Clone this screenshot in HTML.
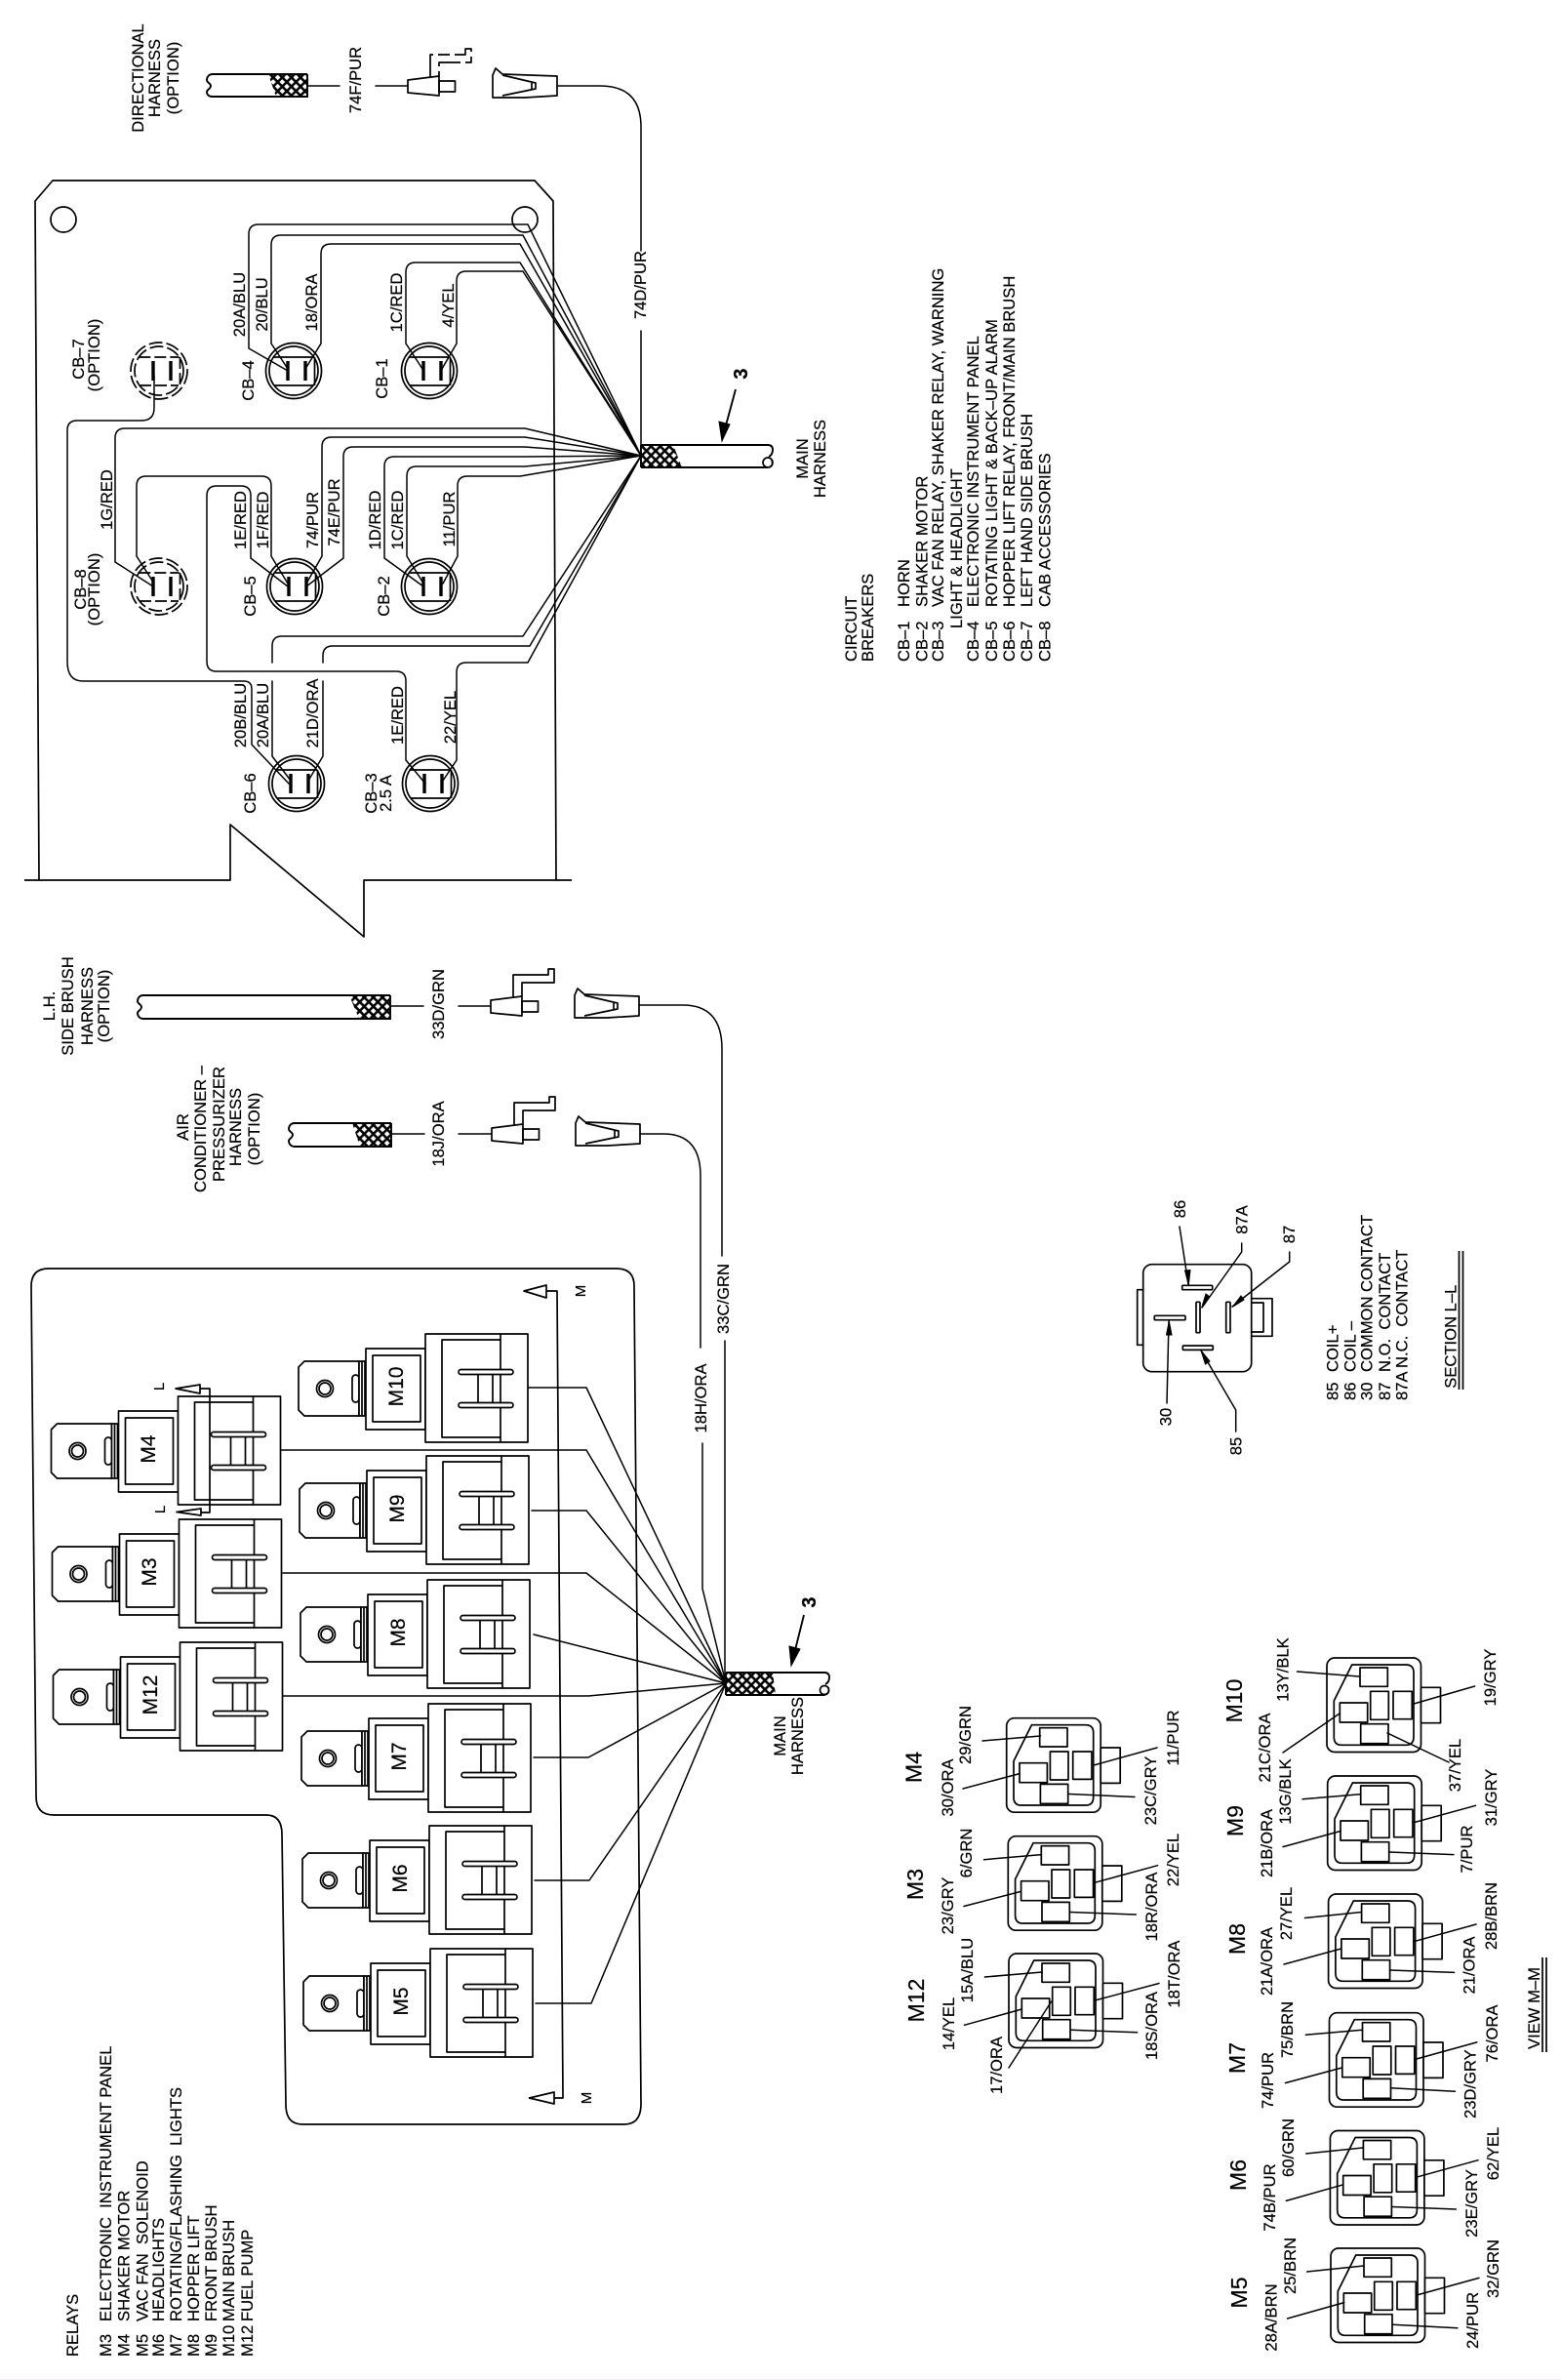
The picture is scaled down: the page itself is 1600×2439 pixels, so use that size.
<!DOCTYPE html>
<html><head><meta charset="utf-8"><title>Wiring diagram</title>
<style>
html,body{margin:0;padding:0;background:#fff}
svg{display:block}
text{font-family:"Liberation Sans",sans-serif;font-size:16.6px;fill:#000;stroke:#000;stroke-width:.2;text-anchor:middle;white-space:pre}
text.s{text-anchor:start}
text.big{font-size:23px}
text.rl{font-size:21px}
text.n{font-size:20px;font-weight:bold}
text.t{font-size:15px}
.w{fill:none;stroke:#000;stroke-width:1.5;stroke-linejoin:round;stroke-linecap:round}
.o{fill:none;stroke:#000;stroke-width:1.7;stroke-linejoin:round}
.f{fill:#fff;stroke:#000;stroke-width:1.7;stroke-linejoin:round}
.l{fill:none;stroke:#000;stroke-width:1.9}
</style></head><body>
<svg xmlns="http://www.w3.org/2000/svg" width="1600" height="2439" viewBox="0 0 1600 2439">
<defs>
<pattern id="h" width="6.6" height="6.6" patternUnits="userSpaceOnUse" patternTransform="rotate(45)">
<rect width="6.6" height="6.6" fill="#fff"/><path d="M3.3 0V6.6M0 3.3H6.6" stroke="#000" stroke-width="2.5"/>
</pattern>
<g id="cb"><circle r="28.5" class="o"/><circle r="25" class="o"/>
<path d="M-20.7-14H20.7M-20 15H20M21.5-14V15" class="o"/>
<path d="M-6-10V10M12-10V10" stroke="#000" stroke-width="3.4" fill="none"/></g>
<g id="cbd"><circle r="29" class="o" stroke-dasharray="14 4"/><circle r="25" class="o" stroke-dasharray="14 4"/>
<path d="M-20.7-14H20.7M-20 15H20M21.5-14V15" class="o" stroke-dasharray="12 4"/>
<path d="M-6-10V10M12-10V10" stroke="#000" stroke-width="3.4" fill="none"/></g>
<g id="r">
<path d="M0-22L6-28H62V28H6L0 22Z" class="f"/>
<circle cx="27" cy="0" r="8.5" class="f"/><circle cx="27" cy="0" r="6" class="f"/>
<rect x="55" y="-14" width="7" height="28" rx="3.5" class="f"/>
<rect x="62" y="-28" width="6" height="56" class="f"/><path d="M65-28V28" class="o"/>
<rect x="69" y="-41" width="61" height="83" class="f"/>
<rect x="76" y="-34" width="49" height="68" class="f"/>
<rect x="130" y="-56" width="105" height="111" class="f"/>
<path d="M207-56V55M207-50H147V50H207" class="o"/>
<path d="M184-17V17M199-17V17" class="o"/>
<rect x="164" y="-19.5" width="56" height="5" rx="2.5" class="f"/>
<rect x="164" y="14.5" width="56" height="5" rx="2.5" class="f"/>
</g>
<g id="c">
<rect x="0" y="0" width="96.5" height="96.5" rx="8" class="f"/>
<rect x="96.5" y="30.3" width="20" height="36.4" class="f"/>
<path d="M25.7 7H81Q89 7 89 15V81Q89 89.3 81 89.3H15Q7.3 89.3 7.3 81V44Z" class="o"/>
<rect x="34" y="10" width="28.3" height="19.3" class="o"/>
<rect x="44.7" y="34.3" width="18.6" height="29" class="o"/>
<rect x="68" y="34.3" width="19.3" height="28.4" class="o"/>
<rect x="13.3" y="46" width="28.4" height="20" class="o"/>
<rect x="34.7" y="67.7" width="28.3" height="20" class="o"/>
</g>
<g id="male"><path d="M0-6L32-10V10L0 7Z" class="o"/><rect x="32" y="-5" width="16.5" height="11" class="o"/></g>
<path id="hook" d="M23-9V-32H59V-38H65V-24H32V-10" class="o"/>
<g id="fem"><path d="M0-11L3-18L10-12L66-10V10L33 12L0 12Z" class="o"/><path d="M10-11L44-3V3L10 10M40-3V3" class="o"/></g>
</defs>
<rect width="1600" height="2439" fill="#fff"/>
<rect y="2438" width="1600" height="1" fill="#f6eef6"/>

<!-- Directional harness -->
<text transform="translate(147,80) rotate(-90)">DIRECTIONAL</text>
<text transform="translate(164,80) rotate(-90)">HARNESS</text>
<text transform="translate(183,80) rotate(-90)">(OPTION)</text>
<polygon points="275,76 315,76 315,99 283,99" fill="url(#h)"/>
<path d="M315 76H218C214 76 212 79 212 82C212 85 216 85 216 88C216 91 212 92 212 94C212 97 214 99 218 99H315V76" class="l"/>
<path d="M315 88H348M385 88H418" class="w"/>
<text transform="translate(370,82) rotate(-90)">74F/PUR</text>
<use href="#male" x="418" y="88"/>
<use href="#hook" x="418" y="88" stroke-dasharray="26 5 12 5"/>
<use href="#fem" x="505" y="88"/>
<path d="M571 88H615Q657 88 657 130V257M657 339V467" class="w"/>
<text transform="translate(662,292) rotate(-90)">74D/PUR</text>

<!-- CB panel -->
<path d="M25 902H236V845L373 960V902H586M40 902L36 206L54 185H548L567 206L570 902" class="o"/>
<circle cx="65" cy="225" r="13" class="o"/><circle cx="538" cy="225" r="13" class="o"/>

<path class="w" d="M295 380L255 357V240Q255 230 265 230H541L657 467"/>
<path class="w" d="M295 378L278 352V251Q278 241 288 241H536L657 467"/>
<path class="w" d="M313 378L329 352V260Q329 250 339 250H533L657 467"/>
<path class="w" d="M433 378L416 352V279Q416 269 426 269H533L657 467"/>
<path class="w" d="M453 378L468 352V288Q468 278 478 278H536L657 467"/>
<path class="w" d="M157 601L118 576V449Q118 439 128 439H538L657 467"/>
<path class="w" d="M295 598L278 570V498Q278 488 268 488H150Q140 488 140 498V570L158 598"/>
<path class="w" d="M295 601L257 572V508Q257 498 247 498H222Q212 498 212 508V678Q212 688 222 688H406Q416 688 416 698V779L436 803"/>
<path class="w" d="M314 598L330 570V458Q330 448 340 448H538L657 467"/>
<path class="w" d="M314 601L352 572V468Q352 458 362 458H538L657 467"/>
<path class="w" d="M434 601L394 572V478Q394 468 404 468H538L657 467"/>
<path class="w" d="M434 598L417 570V488Q417 478 427 478H538L657 467"/>
<path class="w" d="M454 598L469 570V498Q469 488 479 488H533L657 467"/>
<path class="w" d="M158 385V418Q158 431 145 431H79Q69 431 69 441V678Q69 698 85 698H250Q258 698 258 706V763L296 803"/>
<path class="w" d="M298 800L279 775V698M279 679V662Q279 652 289 652H536L657 467"/>
<path class="w" d="M316 800L331 775V698M331 679V672Q331 662 341 662H543L657 467"/>
<path class="w" d="M454 800L468 779V689Q468 679 478 679H541L657 467"/>

<use href="#cb" x="301" y="380"/><use href="#cb" x="440" y="380"/>
<use href="#cbd" x="163" y="380"/><use href="#cbd" x="163" y="601"/>
<use href="#cb" x="302" y="601"/><use href="#cb" x="440" y="601"/>
<use href="#cb" x="304" y="803"/><use href="#cb" x="441" y="803"/>

<text transform="translate(251,312) rotate(-90)">20A/BLU</text>
<text transform="translate(274,312) rotate(-90)">20/BLU</text>
<text transform="translate(325,310) rotate(-90)">18/ORA</text>
<text transform="translate(412,310) rotate(-90)">1C/RED</text>
<text transform="translate(465,313) rotate(-90)">4/YEL</text>
<text transform="translate(260,390) rotate(-90)">CB–4</text>
<text transform="translate(397,388) rotate(-90)">CB–1</text>
<text transform="translate(86,368) rotate(-90)">CB–7</text>
<text transform="translate(102,364) rotate(-90)">(OPTION)</text>
<text transform="translate(88,604) rotate(-90)">CB–8</text>
<text transform="translate(102,604) rotate(-90)">(OPTION)</text>
<text transform="translate(115,512) rotate(-90)">1G/RED</text>
<text transform="translate(252,533) rotate(-90)">1E/RED</text>
<text transform="translate(275,533) rotate(-90)">1F/RED</text>
<text transform="translate(326,533) rotate(-90)">74/PUR</text>
<text transform="translate(348,525) rotate(-90)">74E/PUR</text>
<text transform="translate(390,533) rotate(-90)">1D/RED</text>
<text transform="translate(413,533) rotate(-90)">1C/RED</text>
<text transform="translate(466,532) rotate(-90)">11/PUR</text>
<text transform="translate(262,611) rotate(-90)">CB–5</text>
<text transform="translate(399,611) rotate(-90)">CB–2</text>
<text transform="translate(252,733) rotate(-90)">20B/BLU</text>
<text transform="translate(275,733) rotate(-90)">20A/BLU</text>
<text transform="translate(326,731) rotate(-90)">21D/ORA</text>
<text transform="translate(413,733) rotate(-90)">1E/RED</text>
<text transform="translate(467,735) rotate(-90)">22/YEL</text>
<text transform="translate(262,813) rotate(-90)">CB–6</text>
<text transform="translate(386,813) rotate(-90)">CB–3</text>
<text transform="translate(401,813) rotate(-90)">2.5 A</text>

<!-- Main harness 1 -->
<polygon points="657,456 690,456 699,479 657,479" fill="url(#h)"/>
<path d="M657 456H787Q792 456 792 461Q792 466 788 468M657 479H787M657 456V479" class="l"/>
<circle cx="787" cy="474" r="5" class="o"/><path d="M791 471Q793 478 788 479" class="o"/>
<path d="M754 399L744 436" class="l" stroke-width="2.2"/><path d="M740 452L737 432L748 435Z" fill="#000" stroke="#000"/>
<text class="n" transform="translate(766,383) rotate(-90)">3</text>
<text transform="translate(828,470) rotate(-90)">MAIN</text>
<text transform="translate(846,470) rotate(-90)">HARNESS</text>

<!-- CB legend -->
<text class="s" transform="translate(878,678) rotate(-90)">CIRCUIT</text>
<text class="s" transform="translate(895,678) rotate(-90)">BREAKERS</text>
<text class="s" transform="translate(932,678) rotate(-90)">CB–1</text><text class="s" transform="translate(932,622) rotate(-90)">HORN</text>
<text class="s" transform="translate(950.5,678) rotate(-90)">CB–2</text><text class="s" transform="translate(950.5,622) rotate(-90)">SHAKER MOTOR</text>
<text class="s" transform="translate(967,678) rotate(-90)">CB–3</text><text class="s" transform="translate(967,622) rotate(-90)">VAC FAN RELAY, SHAKER RELAY, WARNING</text>
<text class="s" transform="translate(986,644) rotate(-90)">LIGHT &amp; HEADLIGHT</text>
<text class="s" transform="translate(1003,678) rotate(-90)">CB–4</text><text class="s" transform="translate(1003,622) rotate(-90)">ELECTRONIC INSTRUMENT PANEL</text>
<text class="s" transform="translate(1022,678) rotate(-90)">CB–5</text><text class="s" transform="translate(1022,622) rotate(-90)">ROTATING LIGHT &amp; BACK–UP ALARM</text>
<text class="s" transform="translate(1040,678) rotate(-90)">CB–6</text><text class="s" transform="translate(1040,622) rotate(-90)">HOPPER LIFT RELAY, FRONT/MAIN BRUSH</text>
<text class="s" transform="translate(1058,678) rotate(-90)">CB–7</text><text class="s" transform="translate(1058,622) rotate(-90)">LEFT HAND SIDE BRUSH</text>
<text class="s" transform="translate(1076.5,678) rotate(-90)">CB–8</text><text class="s" transform="translate(1076.5,622) rotate(-90)">CAB ACCESSORIES</text>

<!-- L.H. side brush -->
<text transform="translate(56,1031) rotate(-90)">L.H.</text>
<text transform="translate(75,1031) rotate(-90)">SIDE BRUSH</text>
<text transform="translate(95,1031) rotate(-90)">HARNESS</text>
<text transform="translate(112,1031) rotate(-90)">(OPTION)</text>
<polygon points="358,1020 400,1020 400,1044 368,1044" fill="url(#h)"/>
<path d="M400 1020H147C143 1020 141 1023 141 1026C141 1029 145 1029 145 1032C145 1035 141 1036 141 1038C141 1041 143 1044 147 1044H400V1020" class="l"/>
<path d="M400 1031H434M470 1031H503" class="w"/>
<text transform="translate(455,1029) rotate(-90)">33D/GRN</text>
<use href="#male" x="503" y="1031"/><use href="#hook" x="503" y="1031"/>
<use href="#fem" x="589" y="1031"/>
<path d="M655 1030H700Q740 1030 740 1075V1287M743 1374V1725" class="w"/>
<text transform="translate(747,1331) rotate(-90)">33C/GRN</text>

<!-- AC harness -->
<text transform="translate(193,1155) rotate(-90)">AIR</text>
<text transform="translate(211,1157) rotate(-90)">CONDITIONER –</text>
<text transform="translate(230,1152) rotate(-90)">PRESSURIZER</text>
<text transform="translate(247,1155) rotate(-90)">HARNESS</text>
<text transform="translate(266,1157) rotate(-90)">(OPTION)</text>
<polygon points="361,1151 401,1151 401,1175 369,1175" fill="url(#h)"/>
<path d="M401 1151H302C298 1151 296 1154 296 1157C296 1160 300 1160 300 1163C300 1166 296 1167 296 1169C296 1172 298 1175 302 1175H401V1151" class="l"/>
<path d="M401 1162H435M470 1162H504" class="w"/>
<text transform="translate(455,1162) rotate(-90)">18J/ORA</text>
<use href="#male" x="504" y="1162"/><use href="#hook" x="504" y="1162"/>
<use href="#fem" x="590" y="1162"/>
<path d="M656 1162H680Q718 1162 718 1205V1381M720 1479V1628L744 1725" class="w"/>
<text transform="translate(724,1433) rotate(-90)">18H/ORA</text>

<!-- Relay panel -->
<path d="M50 1300H632Q650 1300 650 1318L657 2156Q657 2177 640 2177H310Q293 2177 293 2157L289 1880Q289 1860 273 1860H55Q37 1860 37 1841L32 1318Q32 1300 50 1300Z" class="o"/>

<path class="w" d="M287 1486H601L744 1725"/>
<path class="w" d="M542 1422H601L744 1725"/>
<path class="w" d="M545 1548H601L744 1725"/>
<path class="w" d="M290 1612H601L744 1725"/>
<path class="w" d="M547 1675L744 1725"/>
<path class="w" d="M290 1738H603L744 1725"/>
<path class="w" d="M547 1801H603L744 1725"/>
<path class="w" d="M548 1927H604L744 1725"/>
<path class="w" d="M549 2053H606L744 1725"/>

<use href="#r" x="52.5" y="1487"/><use href="#r" x="53.5" y="1613"/><use href="#r" x="54.5" y="1739"/>
<use href="#r" x="306" y="1423"/><use href="#r" x="307" y="1548"/><use href="#r" x="308" y="1675"/>
<use href="#r" x="309" y="1802"/><use href="#r" x="310" y="1927"/><use href="#r" x="311" y="2053"/>
<text class="rl" transform="translate(159,1485) rotate(-90)">M4</text>
<text class="rl" transform="translate(160,1611) rotate(-90)">M3</text>
<text class="rl" transform="translate(161,1737) rotate(-90)">M12</text>
<text class="rl" transform="translate(413,1421) rotate(-90)">M10</text>
<text class="rl" transform="translate(414,1546) rotate(-90)">M9</text>
<text class="rl" transform="translate(415,1673) rotate(-90)">M8</text>
<text class="rl" transform="translate(416,1800) rotate(-90)">M7</text>
<text class="rl" transform="translate(417,1925) rotate(-90)">M6</text>
<text class="rl" transform="translate(418,2051) rotate(-90)">M5</text>

<!-- Section lines -->
<path d="M205 1423H215V1550H206" class="o"/>
<path d="M180 1423L205 1419V1428Z" class="f"/><path d="M181 1549.5L206 1546V1553Z" class="f"/>
<text class="t" transform="translate(168,1421) rotate(-90)">L</text>
<text class="t" transform="translate(169,1547) rotate(-90)">L</text>
<path d="M560 1323H571L577 2150H568" class="o"/>
<path d="M537 1323L560 1317V1330Z" class="f"/><path d="M542.5 2150L568 2144V2156Z" class="f"/>
<text class="t" transform="translate(600,1323) rotate(-90)">M</text>
<text class="t" transform="translate(606,2150) rotate(-90)">M</text>

<!-- Main harness 2 -->
<polygon points="744,1714 792,1714 795,1737 744,1737" fill="url(#h)"/>
<path d="M744 1714H845Q850 1714 850 1719Q850 1724 846 1726M744 1737H845M744 1714V1737" class="l"/>
<circle cx="845" cy="1732" r="4.5" class="o"/><path d="M849 1729Q851 1736 845 1737" class="o"/>
<path d="M824 1655L815 1691" class="l" stroke-width="2.2"/><path d="M811 1707L809 1687L820 1690Z" fill="#000" stroke="#000"/>
<text class="n" transform="translate(836,1642) rotate(-90)">3</text>
<text transform="translate(805,1779) rotate(-90)">MAIN</text>
<text transform="translate(823,1779) rotate(-90)">HARNESS</text>

<!-- Relay legend -->
<text class="s" transform="translate(80,2415) rotate(-90)">RELAYS</text>
<text class="s" transform="translate(114,2415) rotate(-90)">M3</text><text class="s" transform="translate(114,2379) rotate(-90)">ELECTRONIC  INSTRUMENT PANEL</text>
<text class="s" transform="translate(132.5,2415) rotate(-90)">M4</text><text class="s" transform="translate(132.5,2379) rotate(-90)">SHAKER MOTOR</text>
<text class="s" transform="translate(151.5,2415) rotate(-90)">M5</text><text class="s" transform="translate(151.5,2379) rotate(-90)">VAC FAN  SOLENOID</text>
<text class="s" transform="translate(168,2415) rotate(-90)">M6</text><text class="s" transform="translate(168,2379) rotate(-90)">HEADLIGHTS</text>
<text class="s" transform="translate(186,2415) rotate(-90)">M7</text><text class="s" transform="translate(186,2379) rotate(-90)">ROTATING/FLASHING  LIGHTS</text>
<text class="s" transform="translate(204,2415) rotate(-90)">M8</text><text class="s" transform="translate(204,2379) rotate(-90)">HOPPER LIFT</text>
<text class="s" transform="translate(222,2415) rotate(-90)">M9</text><text class="s" transform="translate(222,2379) rotate(-90)">FRONT BRUSH</text>
<text class="s" transform="translate(240,2415) rotate(-90)">M10</text><text class="s" transform="translate(240,2379) rotate(-90)">MAIN BRUSH</text>
<text class="s" transform="translate(259,2415) rotate(-90)">M12</text><text class="s" transform="translate(259,2379) rotate(-90)">FUEL PUMP</text>

<!-- Section L-L -->
<rect x="1165.7" y="1321.7" width="6" height="56.6" class="o"/>
<path d="M1282.7 1330.7H1304V1369.3H1282.7M1282.7 1335H1295V1365H1282.7" class="o"/>
<rect x="1171.7" y="1295.7" width="111" height="110" rx="9" class="f"/>
<rect x="1211.7" y="1317.3" width="31" height="4.4" rx="1" class="o"/>
<rect x="1212.3" y="1379" width="31" height="4.4" rx="1" class="o"/>
<rect x="1183.3" y="1348.3" width="31.7" height="4.4" rx="1" class="o"/>
<rect x="1226" y="1334.3" width="4" height="31.4" rx="1" class="o"/>
<rect x="1256.7" y="1334.3" width="4.3" height="31.4" rx="1" class="o"/>
<path class="w" d="M1209 1257L1218 1316M1272.7 1274V1283L1232 1340M1321.7 1283V1293L1263 1339M1196 1438L1198 1354M1266.7 1467V1445L1231 1384"/>
<path d="M1218.3 1317L1214.5 1302L1220 1301.5Z" fill="#000" stroke="#000"/>
<path d="M1231.7 1340L1236 1326L1240 1329Z" fill="#000" stroke="#000"/>
<path d="M1263.3 1339.3L1272 1328L1275 1332Z" fill="#000" stroke="#000"/>
<path d="M1198.3 1354L1195.5 1368H1201Z" fill="#000" stroke="#000"/>
<path d="M1231 1384L1235.5 1398L1240 1395Z" fill="#000" stroke="#000"/>
<text transform="translate(1215,1239) rotate(-90)">86</text>
<text transform="translate(1278.3,1250) rotate(-90)">87A</text>
<text transform="translate(1327,1265) rotate(-90)">87</text>
<text transform="translate(1200.7,1452) rotate(-90)">30</text>
<text transform="translate(1272.7,1482) rotate(-90)">85</text>
<text class="s" transform="translate(1371.7,1435) rotate(-90)">85</text><text class="s" transform="translate(1371.7,1406) rotate(-90)">COIL+</text>
<text class="s" transform="translate(1389.3,1435) rotate(-90)">86</text><text class="s" transform="translate(1389.3,1406) rotate(-90)">COIL –</text>
<text class="s" transform="translate(1406.7,1435) rotate(-90)">30</text><text class="s" transform="translate(1406.7,1406) rotate(-90)">COMMON CONTACT</text>
<text class="s" transform="translate(1425,1435) rotate(-90)">87</text><text class="s" transform="translate(1425,1406) rotate(-90)">N.O.  CONTACT</text>
<text class="s" transform="translate(1442.7,1435) rotate(-90)">87A</text><text class="s" transform="translate(1442.7,1402) rotate(-90)">N.C.  CONTACT</text>
<text class="s" transform="translate(1492.7,1422.7) rotate(-90)">SECTION L–L</text>
<path d="M1495.5 1282V1424M1499.5 1282V1424" class="o"/>

<!-- Connectors: view M-M -->
<use href="#c" x="1031.7" y="1760.7"/><use href="#c" x="1033.3" y="1881.7"/><use href="#c" x="1034" y="2002"/>
<use href="#c" x="1360" y="1699"/><use href="#c" x="1360.7" y="1820"/><use href="#c" x="1361.6" y="1941"/>
<use href="#c" x="1362.5" y="2062.7"/><use href="#c" x="1363.4" y="2183.5"/><use href="#c" x="1364" y="2304"/>
<path class="w" d="M1007 1784L1066.5 1779M987 1833L1045 1817.6M1186 1791L1121 1809M1163 1841.5L1096 1838.5"/>
<path class="w" d="M1008.5 1905.7L1067.4 1900.6M988 1953.5L1046.4 1938.4M1186.6 1911.7L1121.9 1929.3M1164.3 1962L1096.4 1959.5"/>
<path class="w" d="M1009.4 2026L1068.3 2021M988.4 2075.3L1047.3 2059M1188 2032.5L1122.3 2050M1165.6 2082.8L1097.8 2080.3M1034 2119L1077.7 2051"/>
<path class="w" d="M1329.5 1713L1393 1718M1315 1796L1373 1756M1511.6 1728L1447 1746.6M1485 1806L1422 1776"/>
<path class="w" d="M1335 1843.8L1394 1838.7M1315 1892.6L1374 1876.5M1512.5 1850.3L1448 1868M1490 1900.6L1423.7 1898"/>
<path class="w" d="M1337.5 1965.5L1395.5 1959.5M1316 2013L1374.6 1997M1513 1972L1449 1989.7M1490.6 2021.4L1424.5 2019"/>
<path class="w" d="M1338.4 2085.3L1396.4 2080.3M1317.4 2134.6L1375.4 2119M1513.8 2092.9L1450 2110.5M1491.5 2143.2L1425.4 2139.7"/>
<path class="w" d="M1338.8 2207L1396.9 2201M1318.3 2255.4L1376.8 2238.8M1515 2213.7L1451.3 2231.3M1492.4 2264L1426.8 2261.5"/>
<path class="w" d="M1339.7 2328L1397.8 2322M1319.6 2376L1377.7 2359.6M1516 2334.4L1452.2 2352M1493.8 2385.8L1427.7 2382.3"/>

<text class="big" transform="translate(944.6,1811) rotate(-90)">M4</text>
<text class="big" transform="translate(946,1931) rotate(-90)">M3</text>
<text class="big" transform="translate(947,2050) rotate(-90)">M12</text>
<text transform="translate(995,1778) rotate(-90)">29/GRN</text>
<text transform="translate(977,1832) rotate(-90)">30/ORA</text>
<text transform="translate(1208,1781) rotate(-90)">11/PUR</text>
<text transform="translate(1185,1835) rotate(-90)">23C/GRY</text>
<text transform="translate(996,1899) rotate(-90)">6/GRN</text>
<text transform="translate(977,1953) rotate(-90)">23/GRY</text>
<text transform="translate(1208,1906) rotate(-90)">22/YEL</text>
<text transform="translate(1186,1954) rotate(-90)">18R/ORA</text>
<text transform="translate(997,2019) rotate(-90)">15A/BLU</text>
<text transform="translate(978,2074) rotate(-90)">14/YEL</text>
<text transform="translate(1027,2116.5) rotate(-90)">17/ORA</text>
<text transform="translate(1209,2023) rotate(-90)">18T/ORA</text>
<text transform="translate(1186,2076) rotate(-90)">18S/ORA</text>

<text class="big" transform="translate(1273,1743) rotate(-90)">M10</text>
<text transform="translate(1320.5,1711) rotate(-90)">13Y/BLK</text>
<text transform="translate(1302,1791) rotate(-90)">21C/ORA</text>
<text transform="translate(1533,1719) rotate(-90)">19/GRY</text>
<text transform="translate(1497,1809) rotate(-90)">37/YEL</text>
<text class="big" transform="translate(1274,1866) rotate(-90)">M9</text>
<text transform="translate(1323,1836) rotate(-90)">13G/BLK</text>
<text transform="translate(1304,1889) rotate(-90)">21B/ORA</text>
<text transform="translate(1534,1842) rotate(-90)">31/GRY</text>
<text transform="translate(1509,1895) rotate(-90)">7/PUR</text>
<text class="big" transform="translate(1276,1987) rotate(-90)">M8</text>
<text transform="translate(1324,1961) rotate(-90)">27/YEL</text>
<text transform="translate(1304,2010) rotate(-90)">21A/ORA</text>
<text transform="translate(1534,1963.5) rotate(-90)">28B/BRN</text>
<text transform="translate(1511.6,2014) rotate(-90)">21/ORA</text>
<text class="big" transform="translate(1276,2109) rotate(-90)">M7</text>
<text transform="translate(1325,2080) rotate(-90)">75/BRN</text>
<text transform="translate(1305,2132) rotate(-90)">74/PUR</text>
<text transform="translate(1535,2084) rotate(-90)">76/ORA</text>
<text transform="translate(1512.5,2135.6) rotate(-90)">23D/GRY</text>
<text class="big" transform="translate(1277,2229) rotate(-90)">M6</text>
<text transform="translate(1326,2201) rotate(-90)">60/GRN</text>
<text transform="translate(1307,2252) rotate(-90)">74B/PUR</text>
<text transform="translate(1536,2207) rotate(-90)">62/YEL</text>
<text transform="translate(1514,2258) rotate(-90)">23E/GRY</text>
<text class="big" transform="translate(1278,2349.5) rotate(-90)">M5</text>
<text transform="translate(1328,2322) rotate(-90)">25/BRN</text>
<text transform="translate(1308.5,2375) rotate(-90)">28A/BRN</text>
<text transform="translate(1536,2325) rotate(-90)">32/GRN</text>
<text transform="translate(1515,2378) rotate(-90)">24/PUR</text>
<text transform="translate(1578,2058) rotate(-90)">VIEW M–M</text>
<path d="M1581 2006V2103M1585 2006V2103" class="o"/>
</svg>
</body></html>
